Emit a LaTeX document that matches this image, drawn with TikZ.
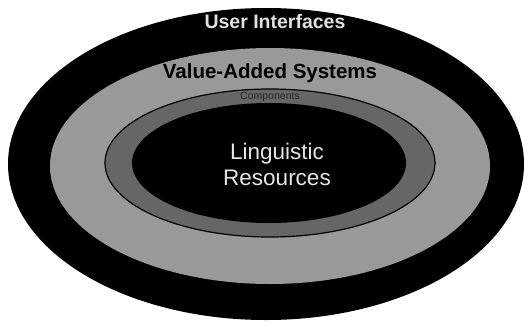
\documentclass[tikz,border=0pt]{standalone}
\usepackage{fontspec}
\setmainfont{Liberation Sans}
\begin{document}
\begin{tikzpicture}[x=1pt,y=-1pt]
\tikzset{
  lbl/.style={inner sep=0pt, align=center}
}
\useasboundingbox (0,0) rectangle (531,322);
\fill[white] (0,0) rectangle (531,322);
% outer ring
\path[fill=black] (266,164) ellipse [x radius=258, y radius=156];
% light ring
\path[fill=black!40] (270,166) ellipse [x radius=220, y radius=118];
% darker ring
\path[fill=black!60, draw=black, line width=1.2pt] (270,163) ellipse [x radius=165, y radius=74];
% core
\path[fill=black] (269,163) ellipse [x radius=137, y radius=60];
% labels
\node[lbl, text=black!12, font=\bfseries\fontsize{19.5}{22}\selectfont] (ui) at (275,22) {User Interfaces};
\node[lbl, text=black, font=\bfseries\fontsize{20.5}{24}\selectfont] (vas) at (270,73) {Value-Added Systems};
\node[lbl, text=black!85, font=\fontsize{10.5}{12}\selectfont] (comp) at (270,97) {Components};
\node[lbl, text=black!10, font=\fontsize{22.5}{26}\selectfont] (lr) at (277,164) {Linguistic\\Resources};
\end{tikzpicture}
\end{document}
